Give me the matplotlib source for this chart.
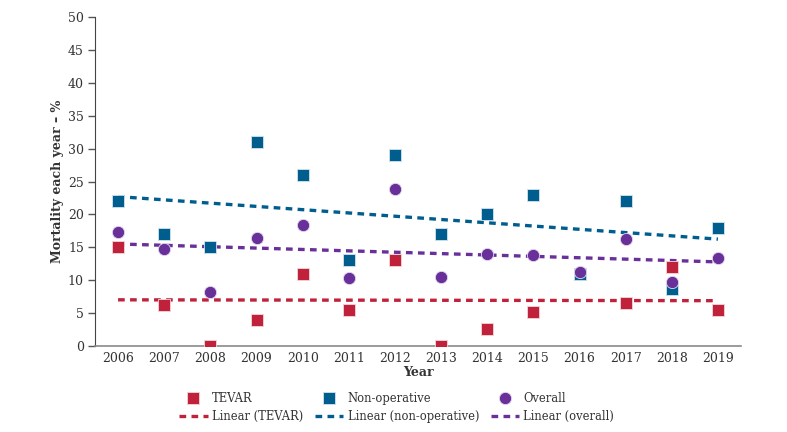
import numpy as np
import matplotlib
matplotlib.use('Agg')
import matplotlib.pyplot as plt

plt.rcParams['font.family'] = ['DejaVu Serif']

# data
years = [2006, 2007, 2008, 2009, 2010, 2011, 2012, 2013, 2014, 2015, 2016, 2017, 2018, 2019]
tevar = [15, 6.3, 0, 4, 11, 5.4, 13, 0, 2.6, 5.1, 11, 6.6, 12, 5.4]
nonop = [22, 17, 15, 31, 26, 13, 29, 17, 20, 23, 11, 22, 8.7, 18]
overall = [17.4, 14.7, 8.2, 16.4, 18.4, 10.3, 23.8, 10.5, 14.0, 13.8, 11.2, 16.2, 9.8, 13.4]

c_red = '#C0213B'
c_blue = '#005E8E'
c_purple = '#69309A'
txt = '#333333'

fig = plt.figure(figsize=(7.87, 4.32), dpi=100)
ax = fig.add_axes([0.1207, 0.199, 0.8209, 0.7616])

x = np.array(years)

def trend(y):
    k, b = np.polyfit(x, y, 1)
    return k * x + b

# trend lines first, markers over them
ax.plot(x, trend(tevar), ls=(0, (2, 1.6)), lw=2.4, color=c_red, label='Linear (TEVAR)', zorder=2)
ax.plot(x, trend(nonop), ls=(0, (2, 1.6)), lw=2.4, color=c_blue, label='Linear (non-operative)', zorder=2)
ax.plot(x, trend(overall), ls=(0, (2, 1.6)), lw=2.4, color=c_purple, label='Linear (overall)', zorder=2)

ax.plot(x, tevar, 's', ms=9, color=c_red, mec='#f3d6da', mew=0.6, label='TEVAR', zorder=3)
ax.plot(x, nonop, 's', ms=9, color=c_blue, mec='#d2e3ee', mew=0.6, label='Non-operative', zorder=4)
ax.plot(x, overall, 'o', ms=8.8, color=c_purple, mec='#e4d9ee', mew=0.6, label='Overall', zorder=5)

ax.set_xlim(2005.5, 2019.5)
ax.set_ylim(0, 50)
ax.set_xticks(years)
ax.set_yticks(np.arange(0, 51, 5))
ax.tick_params(axis='x', length=0, pad=4, labelsize=9, colors=txt)
ax.tick_params(axis='y', length=5, width=1, pad=3, labelsize=9, colors=txt, color='#555555')

for s in ['top', 'right']:
    ax.spines[s].set_visible(False)
ax.spines['left'].set_color('#444444')
ax.spines['bottom'].set_color('#8a8a8a')
ax.spines['bottom'].set_linewidth(1.2)

ax.set_xlabel('Year', fontsize=9, fontweight='bold', color=txt, labelpad=1)
ax.set_ylabel('Mortality each year – %', fontsize=9, fontweight='bold', color=txt, labelpad=3)

h, l = ax.get_legend_handles_labels()
order = [3, 0, 4, 1, 5, 2]
leg = fig.legend([h[i] for i in order], [l[i] for i in order], loc='upper center',
                 bbox_to_anchor=(0.504, 0.106), ncol=3, frameon=False, fontsize=8.3,
                 handlelength=2.5, handletextpad=0.35, columnspacing=1.0,
                 labelspacing=0.45, borderpad=0)
for t in leg.get_texts():
    t.set_color(txt)

fig.savefig('out.png', dpi=100)
